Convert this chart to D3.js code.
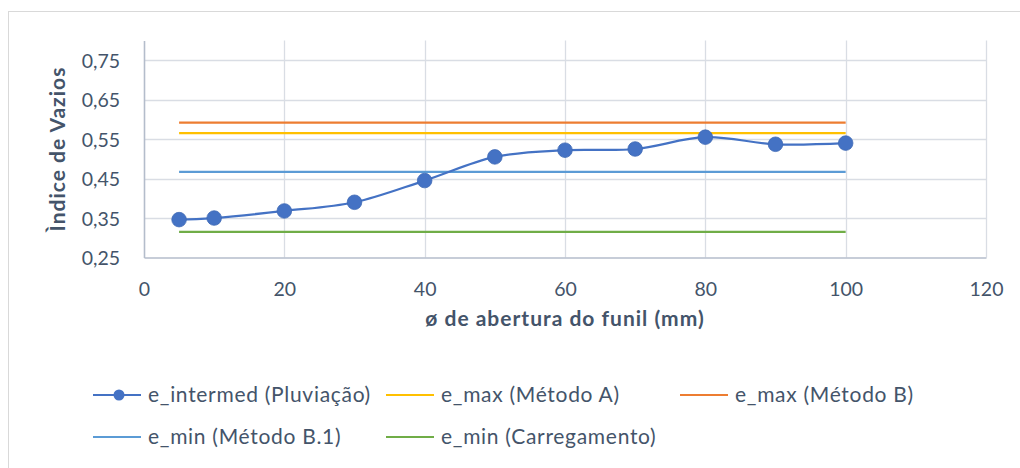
<!DOCTYPE html>
<html>
<head>
<meta charset="utf-8">
<script src="https://cdn.jsdelivr.net/npm/d3@7/dist/d3.min.js"></script>
<style>
html,body{margin:0;padding:0;background:#fff;}
svg{display:block;font-family:Lato,"Open Sans",sans-serif;}
</style>
</head>
<body>
<svg id="chart" width="1020" height="468"></svg>
<script>
// ---- data ----
const xTicks = [0, 20, 40, 60, 80, 100, 120];
const yTicks = [0.25, 0.35, 0.45, 0.55, 0.65, 0.75];
const abertura = [5, 10, 20, 30, 40, 50, 60, 70, 80, 90, 100];
const eIntermed = [0.346, 0.350, 0.368, 0.390, 0.445, 0.505, 0.522, 0.525, 0.555, 0.537, 0.540];
const refX = [5, 100];
const eMaxA = [0.565, 0.565];
const eMaxB = [0.592, 0.592];
const eMinB1 = [0.467, 0.467];
const eMinCarr = [0.315, 0.315];
const seriesNames = ["e_intermed (Pluviação)", "e_max (Método A)", "e_max (Método B)", "e_min (Método B.1)", "e_min (Carregamento)"];
const seriesColors = ["#4472C4", "#FFC000", "#ED7D31", "#5B9BD5", "#70AD47"];
const xTitle = "ø de abertura do funil (mm)";
const yTitle = "Ìndice de Vazios";

// ---- layout ----
const svg = d3.select("#chart");
const m = {left: 144, right: 986, top: 40.5, bottom: 257.5};
const x = d3.scaleLinear().domain([0, 120]).range([m.left, m.right]);
const y = d3.scaleLinear().domain([0.25, 0.8]).range([m.bottom, m.top]);
const textColor = "#44546A";
const tickFont = 19.5;
const textFont = 21;

// chart frame
svg.append("rect").attr("x", 8.5).attr("y", 11.5).attr("width", 1100).attr("height", 600)
  .attr("fill", "none").attr("stroke", "#d9d9d9").attr("stroke-width", 1);

// gridlines
const grid = svg.append("g");
grid.selectAll("line.h").data(yTicks.slice(1)).join("line")
  .attr("x1", m.left).attr("x2", m.right)
  .attr("y1", d => Math.round(y(d)) + 0.5).attr("y2", d => Math.round(y(d)) + 0.5)
  .attr("stroke", "#d9dde4").attr("stroke-width", 1.3);
grid.selectAll("line.v").data(xTicks.slice(1)).join("line")
  .attr("y1", m.top).attr("y2", m.bottom)
  .attr("x1", d => Math.round(x(d)) + 0.5).attr("x2", d => Math.round(x(d)) + 0.5)
  .attr("stroke", "#d9dde4").attr("stroke-width", 1.3);

// axes
const xAxis = svg.append("g").attr("transform", `translate(0,${m.bottom})`)
  .call(d3.axisBottom(x).tickValues(xTicks).tickSize(0).tickPadding(24).tickFormat(d3.format("d")));
const yAxis = svg.append("g").attr("transform", `translate(${m.left},0)`)
  .call(d3.axisLeft(y).tickValues(yTicks).tickSize(0).tickPadding(24).tickFormat(d => d3.format(".2f")(d).replace(".", ",")));
[xAxis, yAxis].forEach(a => {
  a.select(".domain").attr("stroke", "#b4bdcb").attr("stroke-width", 1.6);
  a.selectAll("text").attr("fill", textColor).attr("font-size", tickFont).attr("font-family", "Lato");
});
xAxis.selectAll("text").attr("dy", "0.71em").attr("y", 25);
yAxis.selectAll("text").attr("x", -24).attr("dy", "0.36em");

// axis titles
svg.append("text").attr("x", (m.left + m.right) / 2).attr("y", 326)
  .attr("text-anchor", "middle").attr("font-weight", "bold").attr("font-size", textFont)
  .attr("letter-spacing", 1).attr("fill", textColor).text(xTitle);
svg.append("text").attr("transform", `translate(65,${(m.top + m.bottom) / 2}) rotate(-90)`)
  .attr("text-anchor", "middle").attr("font-weight", "bold").attr("font-size", textFont)
  .attr("letter-spacing", 1).attr("fill", textColor).text(yTitle);

// reference lines
const refSeries = [eMaxA, eMaxB, eMinB1, eMinCarr];
const lineGen = d3.line().x(d => x(d[0])).y(d => y(d[1]));
refSeries.forEach((vals, i) => {
  svg.append("path").datum(refX.map((v, j) => [v, vals[j]]))
    .attr("d", lineGen).attr("fill", "none")
    .attr("stroke", seriesColors[i + 1]).attr("stroke-width", 2.2);
});

// main series
const mainData = abertura.map((v, i) => [v, eIntermed[i]]);
svg.append("path").datum(mainData)
  .attr("d", d3.line().x(d => x(d[0])).y(d => y(d[1])).curve(d3.curveCatmullRom.alpha(0)))
  .attr("fill", "none").attr("stroke", "#4472C4").attr("stroke-width", 2.25);
svg.selectAll("circle.pt").data(mainData).join("circle")
  .attr("cx", d => x(d[0])).attr("cy", d => y(d[1])).attr("r", 7.3)
  .attr("fill", "#4472C4").attr("stroke", "#3f69b5").attr("stroke-width", 0.8);

// legend
const legendPos = [
  {lx: 93, ly: 395}, {lx: 386, ly: 395}, {lx: 680, ly: 395},
  {lx: 93, ly: 437}, {lx: 386, ly: 437}
];
seriesNames.forEach((name, i) => {
  const p = legendPos[i];
  const g = svg.append("g").attr("transform", `translate(${p.lx},${p.ly})`);
  g.append("line").attr("x1", 0).attr("x2", 48).attr("y1", 0).attr("y2", 0)
    .attr("stroke", seriesColors[i]).attr("stroke-width", 2.2);
  if (i === 0) g.append("circle").attr("cx", 26).attr("cy", 0).attr("r", 5.5).attr("fill", "#4472C4");
  g.append("text").attr("x", 55).attr("y", 0).attr("dy", "0.35em")
    .attr("font-size", textFont).attr("letter-spacing", 0.7).attr("fill", textColor).text(name);
});
</script>
</body>
</html>
